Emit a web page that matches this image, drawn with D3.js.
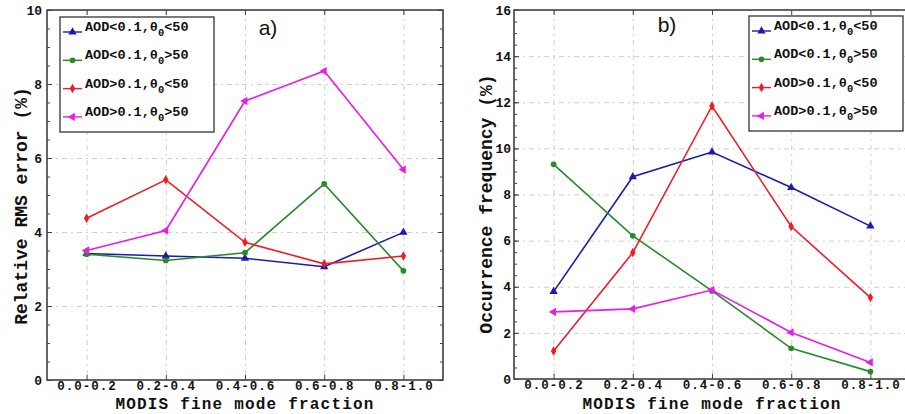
<!DOCTYPE html>
<html><head><meta charset="utf-8">
<script src="https://cdn.jsdelivr.net/npm/d3@7"></script>
<style>
html,body{margin:0;padding:0;background:#fff;}
svg{display:block;}
</style></head>
<body>
<svg id="chart" width="905" height="414"></svg>
<script>
// ---- data ----
const categories = ["0.0-0.2", "0.2-0.4", "0.4-0.6", "0.6-0.8", "0.8-1.0"];
const seriesLabels = [
  {pre: "AOD<0.1,\u03b8", sub: "0", post: "<50"},
  {pre: "AOD<0.1,\u03b8", sub: "0", post: ">50"},
  {pre: "AOD>0.1,\u03b8", sub: "0", post: "<50"},
  {pre: "AOD>0.1,\u03b8", sub: "0", post: ">50"}
];
// panel a) relative RMS error (%)
const rmsLowAodLowSza  = [3.42, 3.35, 3.29, 3.06, 3.99];
const rmsLowAodHighSza = [3.40, 3.23, 3.44, 5.30, 2.95];
const rmsHighAodLowSza = [4.37, 5.41, 3.72, 3.14, 3.35];
const rmsHighAodHighSza= [3.50, 4.04, 7.54, 8.35, 5.69];
// panel b) occurrence frequency (%)
const freqLowAodLowSza  = [3.79, 8.77, 9.84, 8.30, 6.63];
const freqLowAodHighSza = [9.31, 6.21, 3.82, 1.33, 0.32];
const freqHighAodLowSza = [1.21, 5.48, 11.84, 6.61, 3.53];
const freqHighAodHighSza= [2.91, 3.04, 3.86, 2.02, 0.72];
const yTicksA = [0, 2, 4, 6, 8, 10];
const yTicksB = [0, 2, 4, 6, 8, 10, 12, 14, 16];

// ---- styles ----
const colors = ["#1c1caa", "#2a8a2a", "#ee1c25", "#e61ee6"];
const symbols = [d3.symbolTriangle, d3.symbolCircle, d3.symbolDiamond, d3.symbolTriangle];
const symRot = [0, 0, 0, -90];
const symSize = [30, 26, 26, 30];
const monoFont = "'Liberation Mono', 'DejaVu Sans Mono', monospace";

const svg = d3.select("#chart");

function panel(cfg) {
  const g = svg.append("g");
  const x = d3.scalePoint().domain(categories).range([cfg.left, cfg.right]).padding(0.5);
  const y = d3.scaleLinear().domain([0, cfg.ymax]).range([cfg.bottom, cfg.top]);
  const w = cfg.right - cfg.left, h = cfg.bottom - cfg.top;

  // grid
  const gridY = g.append("g").attr("transform", `translate(${cfg.left},0)`)
    .call(d3.axisLeft(y).tickValues(cfg.yTicks.slice(1, -1)).tickSize(-w).tickFormat(""));
  const gridX = g.append("g").attr("transform", `translate(0,${cfg.top})`)
    .call(d3.axisTop(x).tickSize(-h).tickFormat(""));
  [gridY, gridX].forEach(a => {
    a.select(".domain").remove();
    a.selectAll("line").attr("stroke", "#cfcfcf").attr("stroke-width", 1).attr("stroke-dasharray", "5,4,2,4");
  });

  // frame
  g.append("rect").attr("x", cfg.left).attr("y", cfg.top).attr("width", w).attr("height", h)
    .attr("fill", "none").attr("stroke", "#333").attr("stroke-width", 1.5);

  // axes ticks (inward)
  const ax = g.append("g").attr("transform", `translate(0,${cfg.bottom})`)
    .call(d3.axisBottom(x).tickSizeInner(-5).tickSizeOuter(0).tickPadding(1));
  const axTop = g.append("g").attr("transform", `translate(0,${cfg.top})`)
    .call(d3.axisTop(x).tickSizeInner(-5).tickSizeOuter(0).tickFormat(""));
  const ay = g.append("g").attr("transform", `translate(${cfg.left},0)`)
    .call(d3.axisLeft(y).tickValues(cfg.yTicks).tickSizeInner(-5).tickSizeOuter(0).tickPadding(cfg.yPad));
  const ayMinor = g.append("g").attr("transform", `translate(${cfg.left},0)`)
    .call(d3.axisLeft(y).tickValues(d3.range(0, cfg.ymax + 0.01, 0.5)).tickSizeInner(-3).tickSizeOuter(0).tickFormat(""));
  const ayR = g.append("g").attr("transform", `translate(${cfg.right},0)`)
    .call(d3.axisRight(y).tickValues(cfg.yTicks).tickSizeInner(-5).tickSizeOuter(0).tickFormat(""));
  const ayRMinor = g.append("g").attr("transform", `translate(${cfg.right},0)`)
    .call(d3.axisRight(y).tickValues(d3.range(0, cfg.ymax + 0.01, 0.5)).tickSizeInner(-3).tickSizeOuter(0).tickFormat(""));
  [ax, axTop, ay, ayMinor, ayR, ayRMinor].forEach(a => {
    a.select(".domain").remove();
    a.selectAll("line").attr("stroke", "#444").attr("stroke-width", 1);
    a.selectAll("text").attr("font-family", monoFont).attr("font-weight", "bold")
      .attr("font-size", 13).attr("fill", "#111");
  });
  ax.selectAll("text").attr("font-size", 12.5).attr("letter-spacing", 1);

  // axis titles
  g.append("text").attr("x", (cfg.left + cfg.right) / 2 + cfg.xTitleShift).attr("y", 409)
    .attr("text-anchor", "middle").attr("font-family", monoFont).attr("font-weight", "bold")
    .attr("font-size", 16).attr("letter-spacing", 1.2).attr("fill", "#111").text("MODIS fine mode fraction");
  g.append("text").attr("transform", `translate(${cfg.yTitleX},${cfg.yTitleY}) rotate(-90)`)
    .attr("text-anchor", "middle").attr("dominant-baseline", "central")
    .attr("font-family", monoFont).attr("font-weight", "bold")
    .attr("font-size", 18).attr("fill", "#111").text(cfg.yTitle);

  // panel label
  g.append("text").attr("x", cfg.labelX).attr("y", cfg.labelY).attr("text-anchor", "middle")
    .attr("font-family", "'Liberation Sans', Arial, sans-serif").attr("font-size", 21)
    .attr("fill", "#111").text(cfg.label);

  // series
  const line = d3.line().x((d, i) => x(categories[i])).y(d => y(d));
  cfg.series.forEach((vals, k) => {
    g.append("path").datum(vals).attr("d", line).attr("fill", "none")
      .attr("stroke", colors[k]).attr("stroke-width", 1.6);
    g.selectAll(null).data(vals).enter().append("path")
      .attr("d", d3.symbol().type(symbols[k]).size(symSize[k]))
      .attr("transform", (d, i) => `translate(${x(categories[i])},${y(d)}) rotate(${symRot[k]})`)
      .attr("fill", colors[k]);
  });

  // legend
  const lg = g.append("g").attr("transform", `translate(${cfg.legX},${cfg.legY})`);
  lg.append("rect").attr("width", 154).attr("height", 115).attr("fill", "#fff")
    .attr("stroke", "#333").attr("stroke-width", 1.3);
  seriesLabels.forEach((s, k) => {
    const ly = 15 + k * 28.3;
    lg.append("line").attr("x1", 3).attr("x2", 22).attr("y1", ly).attr("y2", ly)
      .attr("stroke", colors[k]).attr("stroke-width", 1.4);
    lg.append("path").attr("d", d3.symbol().type(symbols[k]).size(symSize[k]))
      .attr("transform", `translate(12.5,${ly}) rotate(${symRot[k]})`).attr("fill", colors[k]);
    const t = lg.append("text").attr("x", 25).attr("y", ly - 1)
      .attr("font-family", monoFont).attr("font-weight", "bold").attr("font-size", 13.5).attr("fill", "#111");
    t.append("tspan").text(s.pre);
    t.append("tspan").attr("dy", 5).attr("font-size", 10.5).text(s.sub);
    t.append("tspan").attr("dy", -5).text(s.post);
  });
}

panel({
  left: 47, right: 443, top: 10, bottom: 380, ymax: 10, yTicks: yTicksA, yPad: 5,
  yTitle: "Relative RMS error (%)", yTitleX: 22, yTitleY: 206, xTitleShift: 0,
  label: "a)", labelX: 268, labelY: 35, legX: 60, legY: 17,
  series: [rmsLowAodLowSza, rmsLowAodHighSza, rmsHighAodLowSza, rmsHighAodHighSza]
});
panel({
  left: 514, right: 910, top: 10, bottom: 379, ymax: 16, yTicks: yTicksB, yPad: 3,
  yTitle: "Occurrence frequency (%)", yTitleX: 487, yTitleY: 204, xTitleShift: 0,
  label: "b)", labelX: 667, labelY: 32, legX: 749, legY: 16,
  series: [freqLowAodLowSza, freqLowAodHighSza, freqHighAodLowSza, freqHighAodHighSza]
});
</script>
</body></html>
